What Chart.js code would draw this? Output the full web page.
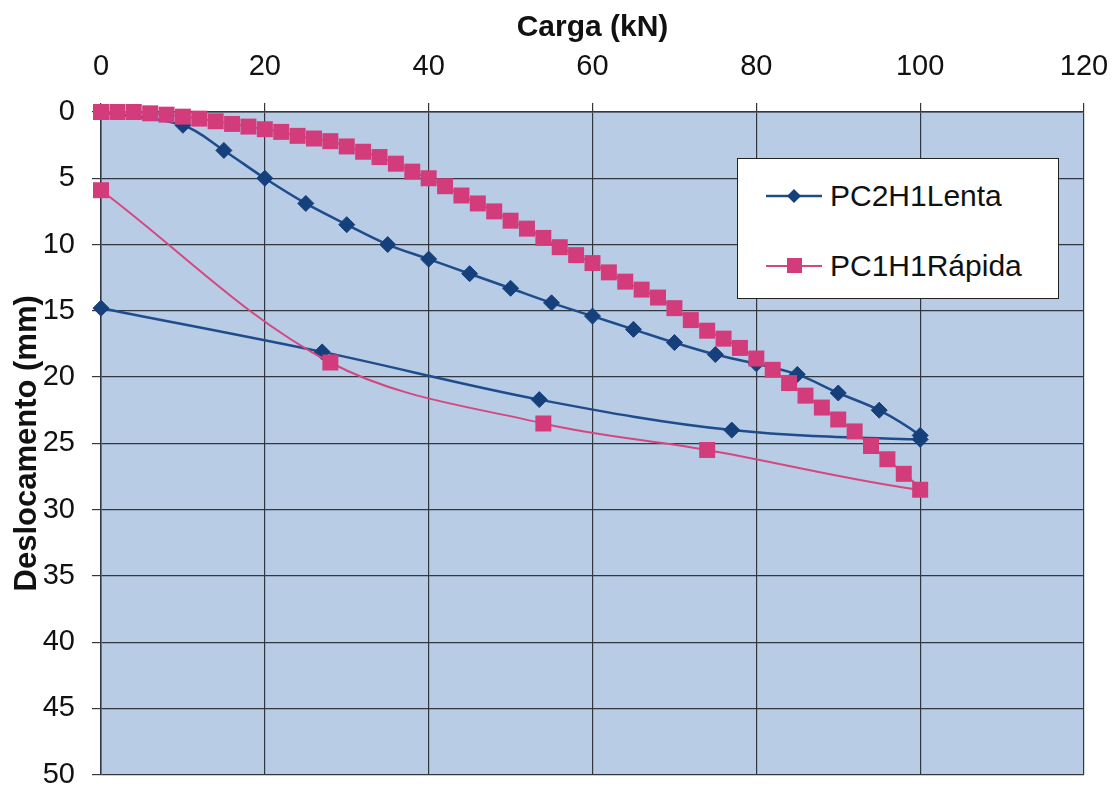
<!DOCTYPE html>
<html>
<head>
<meta charset="utf-8">
<script src="https://cdn.jsdelivr.net/npm/chart.js@4"></script>
<style>
  body { margin: 0; background: #fff; }
  #wrap { position: relative; width: 1114px; height: 786px; }
  #legend {
    position: absolute; left: 737px; top: 158px; width: 320px; height: 139px;
    background: #fff; border: 1.5px solid #222;
    font-family: 'Liberation Sans', Arial, sans-serif; font-size: 30px; color: #111;
  }
  .item { position: absolute; left: 28px; height: 34px; display: flex; align-items: center; }
  .item span { margin-left: 8px; }
</style>
</head>
<body>
<div id="wrap">
  <canvas id="chart" width="1114" height="786"></canvas>
  <div id="legend"></div>
</div>
<script>
// PC2H1Lenta (carga lenta): carregamento + descarregamento
const lentaCarga = [0, 10, 15, 20, 25, 30, 35, 40, 45, 50, 55, 60, 65, 70, 75, 80, 85, 90, 95, 100, 100, 77, 53.5, 27, 0];
const lentaDesloc = [0, 1.0, 2.9, 5.0, 6.9, 8.5, 10.0, 11.1, 12.2, 13.3, 14.4, 15.4, 16.4, 17.4, 18.3, 19.0, 19.8, 21.2, 22.5, 24.4, 24.7, 24.0, 21.7, 18.1, 14.8];

// PC1H1Rápida (carga rápida)
const rapidaCarga = [0, 2, 4, 6, 8, 10, 12, 14, 16, 18, 20, 22, 24, 26, 28, 30, 32, 34, 36, 38, 40, 42, 44, 46, 48, 50,
  52, 54, 56, 58, 60, 62, 64, 66, 68, 70, 72, 74, 76, 78, 80, 82, 84, 86, 88, 90, 92, 94, 96, 98, 100, 74, 54, 28, 0];
const rapidaDesloc = [0, 0, 0, 0.1, 0.2, 0.35, 0.5, 0.7, 0.9, 1.1, 1.3, 1.5, 1.8, 2.0, 2.2, 2.6, 3.0, 3.4, 3.9, 4.5, 5.0, 5.6, 6.3, 6.9, 7.5, 8.2,
  8.8, 9.5, 10.2, 10.8, 11.4, 12.1, 12.8, 13.4, 14.0, 14.8, 15.7, 16.5, 17.1, 17.8, 18.6, 19.45, 20.45, 21.4, 22.3, 23.2, 24.1, 25.2, 26.2, 27.3, 28.5, 25.5, 23.5, 18.9, 5.9];

const xTicks = [0, 20, 40, 60, 80, 100, 120];
const yTicks = [0, 5, 10, 15, 20, 25, 30, 35, 40, 45, 50];

const toPoints = (xs, ys) => xs.map((x, i) => ({ x: x, y: ys[i] }));

const FONT = "'Liberation Sans', Arial, sans-serif";
const GRID = '#333840';

const plotBg = {
  id: 'plotBg',
  beforeDraw(chart) {
    const { ctx, chartArea: a } = chart;
    ctx.save();
    ctx.fillStyle = '#b8cce6';
    ctx.fillRect(a.left, a.top, a.right - a.left, a.bottom - a.top);
    ctx.restore();
  }
};

const datasets = [
  {
    label: 'PC2H1Lenta',
    data: toPoints(lentaCarga, lentaDesloc),
    showLine: true,
    borderColor: '#1f4c8a',
    borderWidth: 2.5,
    pointStyle: 'rectRot',
    pointRadius: 8,
    pointBackgroundColor: '#15407c',
    pointBorderColor: '#15407c',
    pointBorderWidth: 1,
    tension: 0.35,
    clip: false,
    order: 2
  },
  {
    label: 'PC1H1Rápida',
    data: toPoints(rapidaCarga, rapidaDesloc),
    showLine: true,
    borderColor: '#d4487f',
    borderWidth: 2,
    pointStyle: 'rect',
    pointRadius: 11.3,
    pointBackgroundColor: '#d23c7b',
    pointBorderWidth: 0,
    tension: 0.35,
    clip: false,
    order: 1
  }
];

const chart = new Chart(document.getElementById('chart'), {
  type: 'scatter',
  data: { datasets: datasets },
  plugins: [plotBg],
  options: {
    responsive: false,
    animation: false,
    events: [],
    layout: { padding: { left: 0, top: 0, right: 30, bottom: 10 } },
    plugins: { legend: { display: false }, tooltip: { enabled: false } },
    scales: {
      x: {
        type: 'linear',
        position: 'top',
        min: 0,
        max: 120,
        afterBuildTicks: (scale) => { scale.ticks = xTicks.map(v => ({ value: v })); },
        afterFit: (scale) => { scale.height = 112; scale.paddingLeft = 0; scale.paddingRight = 0; },
        ticks: { color: '#111', font: { family: FONT, size: 29 }, padding: 19, maxRotation: 0 },
        grid: { color: GRID, lineWidth: 1.2, tickLength: 9 },
        border: { color: GRID, width: 1.5 },
        title: {
          display: true,
          text: 'Carga (kN)',
          color: '#111',
          font: { family: FONT, size: 30, weight: 'bold' },
          padding: { top: 10, bottom: 0 }
        }
      },
      y: {
        type: 'linear',
        reverse: true,
        min: 0,
        max: 50,
        afterBuildTicks: (scale) => { scale.ticks = yTicks.map(v => ({ value: v })); },
        afterFit: (scale) => { scale.width = 101; scale.paddingTop = 0; scale.paddingBottom = 0; },
        ticks: { color: '#111', font: { family: FONT, size: 29 }, padding: 17 },
        grid: { color: GRID, lineWidth: 1.2, tickLength: 9 },
        border: { color: GRID, width: 1.5 },
        title: {
          display: true,
          text: 'Deslocamento (mm)',
          color: '#111',
          font: { family: FONT, size: 31, weight: 'bold' },
          padding: { top: 9, bottom: 0 }
        }
      }
    }
  }
});

// legenda em HTML, a partir dos datasets
const legend = document.getElementById('legend');
const rowTops = [20, 90];
chart.data.datasets.forEach((ds, i) => {
  const marker = ds.pointStyle === 'rectRot'
    ? `<polygon points="28,9 35,16 28,23 21,16" fill="${ds.pointBackgroundColor}"/>`
    : `<rect x="21" y="8" width="15" height="15" fill="${ds.pointBackgroundColor}"/>`;
  const row = document.createElement('div');
  row.className = 'item';
  row.style.top = rowTops[i] + 'px';
  row.innerHTML = `<svg width="56" height="32"><line x1="0" y1="16" x2="56" y2="16" stroke="${ds.borderColor}" stroke-width="${ds.borderWidth}"/>${marker}</svg><span>${ds.label}</span>`;
  legend.appendChild(row);
});
</script>
</body>
</html>
